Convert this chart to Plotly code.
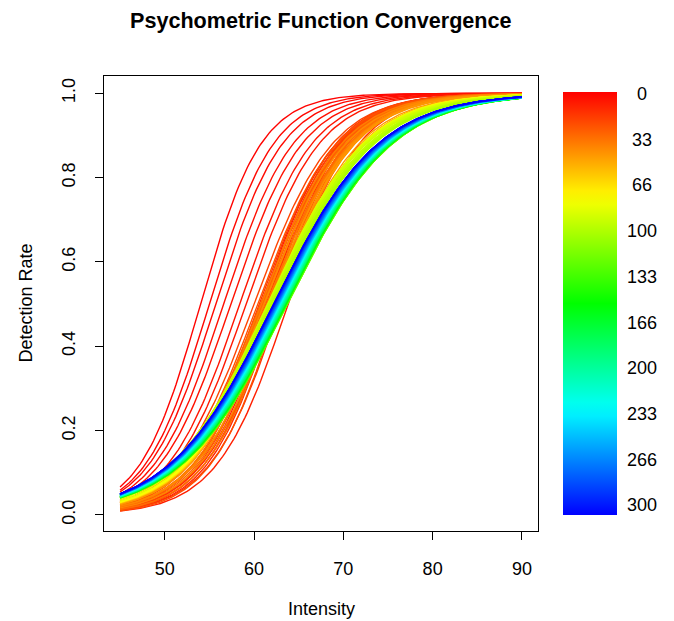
import colorsys
import numpy as np
import plotly.graph_objects as go

# ---- data: per-iteration psychometric (logistic) parameters ----
iterations = [1, 2, 3, 4, 5, 6, 7, 8, 9, 10, 11, 12, 13, 14, 15, 16,
              17, 18, 19, 20, 21, 22, 23, 24, 25, 26, 27, 28, 29, 30,
              31, 32, 33, 34, 35, 36, 37, 38, 39, 40, 41, 42, 43, 44, 46,
              48, 52, 56, 60, 64, 68, 72, 76, 80, 82,
              84, 85, 86, 87, 88, 89, 90, 91, 92, 93, 94, 95, 96, 97, 98, 99, 100,
              102, 105, 108, 112, 116, 120, 124, 128, 132, 136, 140, 144, 148,
              152, 156, 160, 164, 168, 172, 176, 180, 184, 188, 192, 196,
              200, 204, 208, 212, 216, 220, 224, 228, 232, 236, 240, 244, 248,
              252, 256, 260, 262, 264, 266, 268, 270, 272, 274, 276, 278, 280,
              282, 284, 286, 288, 290, 292, 294, 296, 298, 300]
thresholds = [54.0, 55.0, 55.7, 56.6, 57.4, 58.4, 59.1, 60.8, 63.8, 61.5, 62.0, 62.5, 61.3, 62.3, 63.0, 60.9,
              60.6, 61.4, 62.2, 60.0, 61.0, 61.8, 62.8, 60.4, 61.6, 60.9, 62.4, 61.2, 60.7, 62.0,
              61.5, 62.6, 61.0, 61.9, 61.4, 62.2, 60.8, 61.7, 62.5, 62.3, 61.1, 61.6, 61.9, 62.0, 62.2,
              62.3, 62.2, 62.4, 62.3, 62.2, 62.35, 62.25, 62.3, 62.2, 62.0,
              61.9, 61.6, 61.8, 61.5, 61.7, 61.9, 61.6, 62.1, 61.8, 62.2, 61.7, 62.0, 62.3, 61.9, 62.1, 62.3, 62.2,
              63.0, 63.4, 63.6, 63.7, 63.7, 63.7, 63.65, 63.65, 63.6, 63.6, 63.55, 63.55, 63.5,
              63.5, 63.45, 63.45, 63.4, 63.4, 63.35, 63.35, 63.3, 63.3, 63.25, 63.2, 63.15,
              63.1, 63.1, 63.05, 63.0, 62.95, 62.9, 62.9, 62.85, 62.8, 62.8, 62.75, 62.7, 62.7,
              62.65, 62.6, 62.58, 62.56, 62.54, 62.52, 62.5, 62.48, 62.45, 62.42, 62.4, 62.38, 62.35,
              62.33, 62.31, 62.29, 62.27, 62.25, 62.24, 62.23, 62.22, 62.21, 62.2]
slopes = [3.4, 3.6, 3.75, 3.9, 4.0, 4.05, 4.1, 4.2, 4.0, 4.1, 4.0, 3.9, 4.3, 4.1, 4.0, 4.3,
          4.3, 4.1, 3.9, 4.4, 4.2, 4.0, 3.85, 4.4, 4.2, 4.5, 4.0, 4.4, 4.6, 4.2,
          4.5, 4.1, 4.6, 4.4, 4.7, 4.4, 4.5, 4.6, 4.3, 4.5, 4.6, 4.7, 4.7, 4.6, 4.8,
          4.9, 4.95, 4.9, 4.95, 5.0, 4.95, 5.0, 5.0, 5.05, 5.1,
          5.2, 5.35, 5.3, 5.45, 5.4, 5.35, 5.5, 5.4, 5.55, 5.45, 5.6, 5.55, 5.5, 5.65, 5.6, 5.55, 5.65,
          5.85, 5.9, 5.9, 5.9, 5.9, 5.9, 5.9, 5.9, 5.9, 5.9, 5.9, 5.9, 5.9,
          5.9, 5.9, 5.9, 5.9, 5.9, 5.9, 5.9, 5.9, 5.9, 5.9, 5.9, 5.9,
          5.9, 5.9, 5.9, 5.9, 5.9, 5.9, 5.9, 5.9, 5.9, 5.9, 5.9, 5.9, 5.9,
          5.9, 5.9, 5.88, 5.88, 5.88, 5.88, 5.88, 5.87, 5.87, 5.87, 5.87, 5.86, 5.86,
          5.86, 5.86, 5.86, 5.85, 5.85, 5.85, 5.85, 5.85, 5.85, 5.85]
intensity_min, intensity_max = 45, 90
n_iterations = 300
legend_labels = ["0", "33", "66", "100", "133", "166", "200", "233", "266", "300"]
x_ticks = [50, 60, 70, 80, 90]
y_ticks = [0.0, 0.2, 0.4, 0.6, 0.8, 1.0]

FONT = "Liberation Sans, Arial, Helvetica, sans-serif"
OFF = 8  # page body margin
W, H = 666, 613
L, R, T, B = 96, 136, 68, 90
PW, PH = W - L - R, H - T - B


def hue_color(it):
    r, g, b = colorsys.hsv_to_rgb((it / n_iterations) * (240 / 360), 1, 1)
    return f"rgb({int(round(r*255))},{int(round(g*255))},{int(round(b*255))})"


def px(xp):  # page pixel -> paper
    return (xp - OFF - L) / PW


def py(yp):
    return (H - B - (yp - OFF)) / PH


x = np.linspace(intensity_min, intensity_max, 181)
fig = go.Figure()
for it, a, s in zip(iterations, thresholds, slopes):
    y = 1.0 / (1.0 + np.exp(-(x - a) / s))
    fig.add_trace(go.Scatter(x=x, y=y, mode="lines",
                             line=dict(color=hue_color(it), width=1.4),
                             showlegend=False, hoverinfo="skip"))

# colour legend
stops = np.linspace(0, 1, 31)
cscale = [[float(f), hue_color(n_iterations * (1 - f))] for f in stops]
fig.add_trace(go.Scatter(
    x=[None], y=[None], mode="markers", showlegend=False, hoverinfo="skip",
    marker=dict(color=[0], cmin=0, cmax=1, colorscale=cscale, showscale=True,
                colorbar=dict(x=px(563), xanchor="left", y=py(303.5), yanchor="middle",
                              len=423 / PH, lenmode="fraction", thickness=54,
                              thicknessmode="pixels", outlinewidth=0, xpad=0, ypad=0,
                              ticks="", showticklabels=False))))

annotations = []
for k, lab in enumerate(legend_labels):
    annotations.append(dict(x=px(642), y=py(94 + k * 45.72), xref="paper", yref="paper",
                            text=lab, showarrow=False, xanchor="center", yanchor="middle",
                            font=dict(family=FONT, size=18, color="black")))
annotations.append(dict(x=px(321), y=py(20), xref="paper", yref="paper",
                        text="<b>Psychometric Function Convergence</b>", showarrow=False,
                        xanchor="center", yanchor="middle",
                        font=dict(family=FONT, size=21.6, color="black")))
annotations.append(dict(x=px(321), y=py(609), xref="paper", yref="paper",
                        text="Intensity", showarrow=False, xanchor="center", yanchor="middle",
                        font=dict(family=FONT, size=18, color="black")))
annotations.append(dict(x=px(25), y=py(303.5), xref="paper", yref="paper",
                        text="Detection Rate", showarrow=False, textangle=-90,
                        xanchor="center", yanchor="middle",
                        font=dict(family=FONT, size=18, color="black")))

axis_common = dict(showline=True, mirror=True, linecolor="black", linewidth=1,
                   ticks="outside", ticklen=8, tickcolor="black", tickwidth=1,
                   showgrid=False, zeroline=False,
                   tickfont=dict(family=FONT, size=18, color="black"))
fig.update_layout(
    width=W, height=H, margin=dict(l=L, r=R, t=T, b=B, autoexpand=False),
    paper_bgcolor="white", plot_bgcolor="white",
    xaxis=dict(range=[43.2, 91.8], tickvals=x_ticks, ticklabelstandoff=13, **axis_common),
    yaxis=dict(range=[-0.038, 1.041], tickvals=y_ticks, tickformat=".1f", tickangle=-90,
               ticklabelstandoff=13, **axis_common),
    annotations=annotations,
)
fig.write_html("out.html")
